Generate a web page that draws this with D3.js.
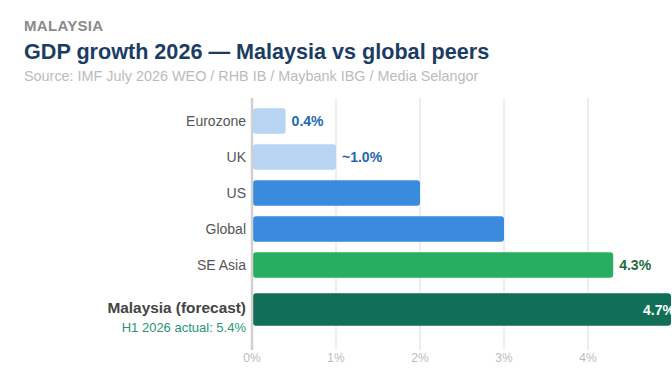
<!DOCTYPE html>
<html>
<head>
<meta charset="utf-8">
<script src="https://cdn.jsdelivr.net/npm/d3@7"></script>
<style>
  html, body { margin: 0; padding: 0; background: #fff; overflow: hidden; }
  svg { display: block; font-family: "Liberation Sans", Arial, Helvetica, sans-serif; }
</style>
</head>
<body>
<svg id="chart" width="672" height="372"></svg>
<script>
// data
var categories = ["Eurozone", "UK", "US", "Global", "SE Asia", "Malaysia (forecast)"];
var growth = [0.4, 1.0, 2.0, 3.0, 4.3, 4.7];
var valueLabels = ["0.4%", "~1.0%", "", "", "4.3%", "4.7%"];
var barColors = ["#b7d4f3", "#b7d4f3", "#3a8ade", "#3a8ade", "#28ae60", "#116e57"];
var labelColors = ["#2368b4", "#2368b4", "", "", "#1d6a3a", "#ffffff"];
var tickValues = [0, 1, 2, 3, 4];
var heroNote = "H1 2026 actual: 5.4%";

var svg = d3.select("#chart");

// header
svg.append("text").attr("x", 24).attr("y", 31)
    .attr("font-size", 15).attr("font-weight", "bold").attr("fill", "#8a8a8a")
    .attr("letter-spacing", 0.3)
    .text("MALAYSIA");
svg.append("text").attr("x", 24).attr("y", 59)
    .attr("font-size", 21.6).attr("font-weight", "bold").attr("fill", "#1b3d63")
    .text("GDP growth 2026 \u2014 Malaysia vs global peers");
svg.append("text").attr("x", 24).attr("y", 81)
    .attr("font-size", 14.4).attr("fill", "#bbbbbb")
    .text("Source: IMF July 2026 WEO / RHB IB / Maybank IBG / Media Selangor");

var x = d3.scaleLinear().domain([0, 5]).range([252, 672]);
var y = d3.scaleBand().domain(categories).range([103, 319])
    .paddingInner(0.29).paddingOuter(0.145);

var heroShift = 8.5, heroGrow = 7;
var rows = categories.map(function (c, i) {
    var hero = i === categories.length - 1;
    var h = y.bandwidth() + (hero ? heroGrow : 0);
    var top = y(c) + (hero ? heroShift - heroGrow / 2 : 0);
    return { name: c, v: growth[i], label: valueLabels[i], color: barColors[i],
             lcolor: labelColors[i], hero: hero, top: top, h: h };
});

// grid
var gTop = 98, gBottom = 350;
svg.append("g").selectAll("line").data(tickValues.slice(1)).join("line")
    .attr("x1", function (d) { return x(d); }).attr("x2", function (d) { return x(d); })
    .attr("y1", gTop).attr("y2", gBottom)
    .attr("stroke", "#eeeeee").attr("stroke-width", 2);

svg.append("g").selectAll("text").data(tickValues).join("text")
    .attr("x", function (d) { return x(d); }).attr("y", 362)
    .attr("text-anchor", "middle").attr("font-size", 12).attr("fill", "#bbbbbb")
    .text(function (d) { return d + "%"; });

// bars
svg.append("g").selectAll("rect").data(rows).join("rect")
    .attr("x", x(0) + 1)
    .attr("y", function (d) { return d.top; })
    .attr("width", function (d) {
        // hero bar runs across the whole axis
        return (d.hero ? x(x.domain()[1]) - 1 : x(d.v)) - x(0) - 1;
    })
    .attr("height", function (d) { return d.h; })
    .attr("rx", 3)
    .attr("fill", function (d) { return d.color; });

// axis line
svg.append("line").attr("x1", x(0)).attr("x2", x(0)).attr("y1", gTop).attr("y2", gBottom)
    .attr("stroke", "#d0d0d0").attr("stroke-width", 2.5);

// category labels
svg.append("g").selectAll("text").data(rows).join("text")
    .attr("x", 246)
    .attr("y", function (d) { return d.hero ? 313 : d.top + d.h / 2 + 5; })
    .attr("text-anchor", "end")
    .attr("font-size", function (d) { return d.hero ? 15.4 : 14; })
    .attr("font-weight", function (d) { return d.hero ? "bold" : "normal"; })
    .attr("fill", function (d) { return d.hero ? "#444444" : "#555555"; })
    .text(function (d) { return d.name; });

svg.append("text").attr("x", 246).attr("y", 332)
    .attr("text-anchor", "end").attr("font-size", 13).attr("fill", "#2a9474")
    .text(heroNote);

// value labels
svg.append("g").selectAll("text").data(rows.filter(function (d) { return d.label; })).join("text")
    .attr("x", function (d) { return d.hero ? x(x.domain()[1]) + 3 : x(d.v) + 6; })
    .attr("y", function (d) { return d.top + d.h / 2 + 5; })
    .attr("text-anchor", function (d) { return d.hero ? "end" : "start"; })
    .attr("font-size", 14).attr("font-weight", "bold")
    .attr("fill", function (d) { return d.lcolor; })
    .text(function (d) { return d.label; });
</script>
</body>
</html>
